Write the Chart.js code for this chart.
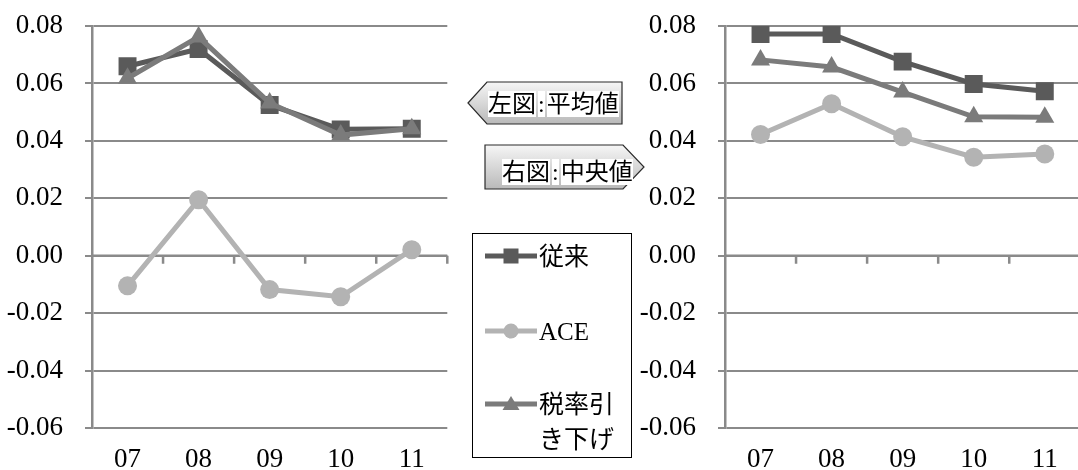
<!DOCTYPE html>
<html lang="ja">
<head>
<meta charset="utf-8">
<script src="https://cdn.jsdelivr.net/npm/chart.js@4.4.1/dist/chart.umd.min.js"></script>
<style>
  html, body { margin: 0; padding: 0; background: #fff; }
  #stage { position: relative; width: 1078px; height: 470px; overflow: hidden; background: #fff; }
  .panel { position: absolute; top: 0; }
  #meanPanel { left: 0; }
  #medianPanel { left: 633px; }
  #overlay { position: absolute; left: 0; top: 0; }
  .calloutText {
    position: absolute; font-family: "Liberation Serif", "Noto Sans CJK JP", serif;
    font-size: 24px; line-height: 25px; white-space: nowrap; color: #000;
  }
  .calloutText span { background: #fff; }
  .calloutText span + span { margin-left: 2px; }
  #legend {
    position: absolute; left: 472px; top: 233px; width: 158px; height: 223px;
    border: 1px solid #000; background: #fff;
  }
  .legendSample { position: absolute; left: 12px; }
  .legendLabel {
    position: absolute; left: 66px; width: 84px;
    font-family: "Liberation Serif", "Noto Sans CJK JP", serif;
    font-size: 25px; line-height: 35px; color: #000;
  }
</style>
</head>
<body>
<div id="stage">
  <div class="panel" id="meanPanel"><canvas id="meanChart" width="460" height="470"></canvas></div>
  <div class="panel" id="medianPanel"><canvas id="medianChart" width="460" height="470"></canvas></div>

  <svg id="overlay" width="1078" height="470">
    <defs>
      <linearGradient id="calloutFill" x1="0" y1="0" x2="0" y2="1">
        <stop offset="0" stop-color="#f6f6f6"/>
        <stop offset="1" stop-color="#b9b9b9"/>
      </linearGradient>
    </defs>
    <polygon points="468,103 487,82 622,82 622,124 487,124" fill="url(#calloutFill)" stroke="#2b2b2b" stroke-width="1.2"/>
    <polygon points="485,145 623,145 644,167 623,189 485,189" fill="url(#calloutFill)" stroke="#2b2b2b" stroke-width="1.2"/>
  </svg>

  <div class="calloutText" style="left:488px; top:92px;"><span>左図</span><span>:</span><span>平均値</span></div>
  <div class="calloutText" style="left:502px; top:160px;"><span>右図</span><span>:</span><span>中央値</span></div>

  <div id="legend"></div>
</div>

<script>
// Fiscal years on the horizontal axis
const years = ['07', '08', '09', '10', '11'];

// Series names
const seriesNames = ['従来', 'ACE', '税率引き下げ'];

// Left panel: mean values
const meanConventional = [0.066, 0.072, 0.0525, 0.044, 0.0442];
const meanACE          = [-0.0105, 0.0195, -0.0118, -0.0143, 0.0021];
const meanTaxCut       = [0.0618, 0.0762, 0.0532, 0.0420, 0.0442];

// Right panel: median values
const medianConventional = [0.0772, 0.0772, 0.0676, 0.0598, 0.0573];
const medianACE          = [0.0422, 0.0529, 0.0414, 0.0343, 0.0354];
const medianTaxCut       = [0.0682, 0.0657, 0.0570, 0.0484, 0.0482];

// Value axis range
const yMin = -0.06, yMax = 0.08, yStep = 0.02;

const seriesColors = ['#5a5a5a', '#b3b3b3', '#7b7b7b'];
const seriesPoints = [
  { style: 'rect', radius: 12.7 },
  { style: 'circle', radius: 9.5 },
  { style: 'triangle', radius: 11 }
];
const GRID = '#8a8a8a';
const TICK_FONT = { family: "'Liberation Serif', 'Times New Roman', serif", size: 27 };

// Horizontal axis through zero, with tick marks at the category boundaries
const zeroAxis = {
  id: 'zeroAxis',
  beforeDatasetsDraw(chart) {
    const { ctx, chartArea, scales: { x, y } } = chart;
    const y0 = y.getPixelForValue(0);
    const half = (x.getPixelForValue(1) - x.getPixelForValue(0)) / 2;
    ctx.save();
    ctx.strokeStyle = GRID;
    ctx.lineWidth = 2.5;
    ctx.beginPath();
    ctx.moveTo(chartArea.left, y0);
    ctx.lineTo(chartArea.right, y0);
    for (let i = 0; i < years.length; i++) {
      const px = x.getPixelForValue(i) + half;
      ctx.moveTo(px, y0);
      ctx.lineTo(px, y0 + 8);
    }
    ctx.stroke();
    ctx.restore();
  }
};

function dataset(i, values) {
  return {
    label: seriesNames[i],
    data: values,
    borderColor: seriesColors[i],
    backgroundColor: seriesColors[i],
    borderWidth: 5,
    tension: 0,
    pointStyle: seriesPoints[i].style,
    pointRadius: seriesPoints[i].radius,
    pointBorderWidth: 0,
    pointBackgroundColor: seriesColors[i],
    order: 3 - i
  };
}

function makeChart(id, conv, ace, cut) {
  return new Chart(document.getElementById(id), {
    type: 'line',
    data: {
      labels: years,
      datasets: [dataset(0, conv), dataset(1, ace), dataset(2, cut)]
    },
    options: {
      responsive: false,
      animation: false,
      events: [],
      layout: { padding: { top: 26, right: 6, bottom: 0, left: 0 } },
      plugins: { legend: { display: false }, tooltip: { enabled: false } },
      scales: {
        x: {
          offset: true,
          grid: { display: false, drawTicks: false, tickLength: 0 },
          border: { display: false },
          ticks: {
            color: '#000', padding: 16, maxRotation: 0, autoSkip: false,
            font: TICK_FONT
          },
          afterFit(s) { s.height = 42; s.paddingLeft = 0; s.paddingRight = 0; }
        },
        y: {
          min: yMin, max: yMax,
          ticks: {
            stepSize: yStep, color: '#000', padding: 22,
            font: TICK_FONT,
            callback: v => (Math.abs(v) < 1e-9 ? 0 : v).toFixed(2)
          },
          grid: { color: GRID, lineWidth: 2, drawTicks: true, tickLength: 7 },
          border: { color: GRID, width: 2.5 },
          afterFit(s) { s.width = 92; s.paddingTop = 0; s.paddingBottom = 0; }
        }
      }
    },
    plugins: [zeroAxis]
  });
}

makeChart('meanChart', meanConventional, meanACE, meanTaxCut);
makeChart('medianChart', medianConventional, medianACE, medianTaxCut);

// Legend: line sample with marker, followed by the series name
const legend = document.getElementById('legend');
const legendRows = [22, 97, 170];
function markerSvg(i) {
  const c = seriesColors[i];
  const cx = 26, cy = 10;
  let m;
  if (seriesPoints[i].style === 'rect') m = `<rect x="${cx - 7.5}" y="${cy - 7.5}" width="15" height="15" fill="${c}"/>`;
  else if (seriesPoints[i].style === 'circle') m = `<circle cx="${cx}" cy="${cy}" r="7.5" fill="${c}"/>`;
  else m = `<polygon points="${cx},${cy - 8} ${cx + 8.5},${cy + 6} ${cx - 8.5},${cy + 6}" fill="${c}"/>`;
  return `<svg width="52" height="20"><line x1="0" y1="${cy}" x2="52" y2="${cy}" stroke="${c}" stroke-width="5"/>${m}</svg>`;
}
seriesNames.forEach((name, i) => {
  const cy = legendRows[i];
  const s = document.createElement('div');
  s.className = 'legendSample';
  s.style.top = (cy - 10) + 'px';
  s.innerHTML = markerSvg(i);
  legend.appendChild(s);
  const t = document.createElement('div');
  t.className = 'legendLabel';
  t.style.top = (cy - 17.5) + 'px';
  t.textContent = name;
  legend.appendChild(t);
});
</script>
</body>
</html>
